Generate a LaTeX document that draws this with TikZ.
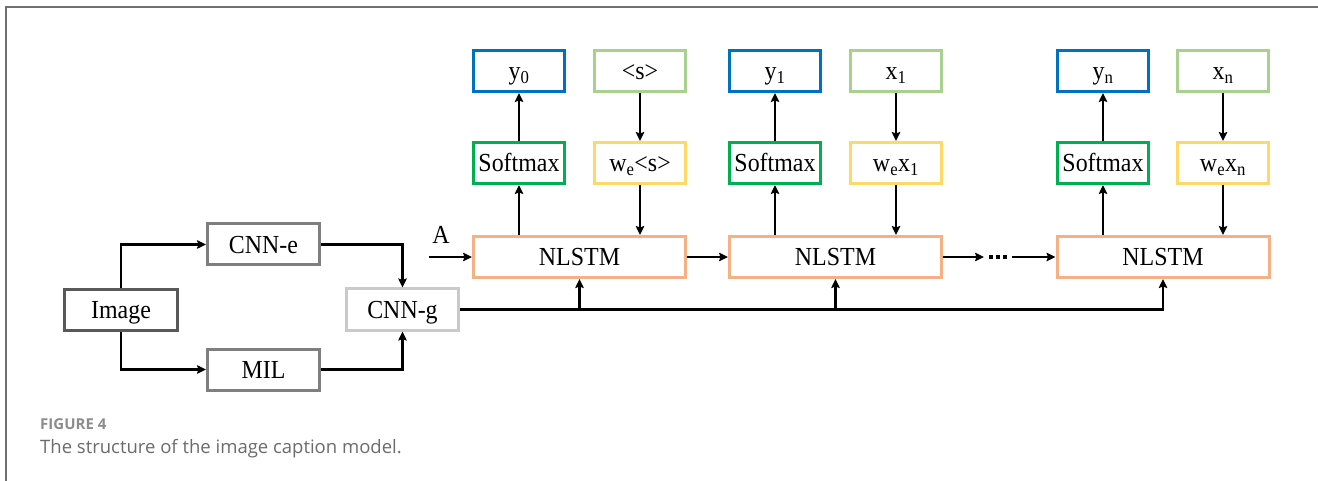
\documentclass[tikz,border=0pt]{standalone}
\usepackage{fontspec}
\setmainfont{Liberation Serif}[FakeStretch=0.92]
\newfontfamily\capfont{Open Sans}
\usetikzlibrary{arrows.meta}

\definecolor{frameg}{HTML}{707070}
\definecolor{imgg}{HTML}{595959}
\definecolor{midg}{HTML}{7F7F7F}
\definecolor{lightg}{HTML}{CACACA}
\definecolor{lstm}{HTML}{F4B183}
\definecolor{outblue}{HTML}{0070C0}
\definecolor{smgreen}{HTML}{00B050}
\definecolor{ingreen}{HTML}{A9D18E}
\definecolor{embyel}{HTML}{FFD966}
\definecolor{figlab}{HTML}{8C8C8C}
\definecolor{captxt}{HTML}{6B6B6B}

\begin{document}
\begin{tikzpicture}[x=1pt,y=-1pt,
  box/.style={draw, line width=3pt, inner sep=0pt, minimum height=41pt,
    text height=17.2pt, text depth=0pt, font=\fontsize{26}{30}\selectfont},
  small/.style={box, minimum width=91pt},
  outbox/.style={small, draw=outblue},
  smbox/.style={small, draw=smgreen},
  inbox/.style={small, draw=ingreen},
  embbox/.style={small, draw=embyel},
  lstmbox/.style={box, minimum width=212pt, draw=lstm},
  conn/.style={line width=2.4pt, -{Stealth[length=9pt,width=8.5pt,inset=1.5pt]}},
]
\useasboundingbox (0,0) rectangle (1318,481);

% page frame (top and left rules)
\draw[frameg, line width=2.5pt] (6,481) -- (6,7) -- (1318,7);

% feature extraction branch
\node[box, draw=imgg, minimum width=113pt] (img) at (121,310) {Image};
\node[box, draw=midg, minimum width=112pt] (cnne) at (263.5,244.5) {CNN-e};
\node[box, draw=midg, minimum width=112pt] (mil) at (263.5,369.5) {MIL};
\node[box, draw=lightg, minimum width=112pt] (cnng) at (402.5,309.5) {CNN-g};

\draw[conn] (img.north) |- (cnne.west);
\draw[conn] (img.south) |- (mil.west);
\draw[conn] (cnne.east) -| (cnng.north);
\draw[conn] (mil.east) -| (cnng.south);

% recurrent units
\node[lstmbox] (l1) at (579.5,257) {NLSTM};
\node[lstmbox] (l2) at (835.5,257) {NLSTM};
\node[lstmbox] (ln) at (1163,257) {NLSTM};

% step 0
\node[outbox] (y0) at (519,71) {y\textsubscript{0}};
\node[smbox] (sm0) at (519,163) {Softmax};
\node[inbox] (s0) at (640,71) {\textless s\textgreater};
\node[embbox] (we0) at (640,163) {w\textsubscript{e}\textless s\textgreater};

% step 1
\node[outbox] (y1) at (775,71) {y\textsubscript{1}};
\node[smbox] (sm1) at (775,163) {Softmax};
\node[inbox] (x1) at (896,71) {x\textsubscript{1}};
\node[embbox] (we1) at (896,163) {w\textsubscript{e}x\textsubscript{1}};

% step n
\node[outbox] (yn) at (1103,71) {y\textsubscript{n}};
\node[smbox] (smn) at (1103,163) {Softmax};
\node[inbox] (xn) at (1223,71) {x\textsubscript{n}};
\node[embbox] (wen) at (1223,163) {w\textsubscript{e}x\textsubscript{n}};

% vertical data flow per step
\foreach \l/\sm/\y/\x/\we in {l1/sm0/y0/s0/we0, l2/sm1/y1/x1/we1, ln/smn/yn/xn/wen}{
  \draw[conn] (\l.north -| \sm.south) -- (\sm.south);
  \draw[conn] (\sm.north) -- (\y.south);
  \draw[conn] (\x.south) -- (\we.north);
  \draw[conn] (\we.south) -- (\l.north -| \we.south);
}

% attention input
\coordinate (ain) at (429,257);
\node[font=\fontsize{26}{30}\selectfont, inner sep=0pt] (alab) at (441,235) {A};
\draw[conn] (ain) -- (l1.west);

% hidden-state chain
\draw[conn] (l1.east) -- (l2.west);
\coordinate (dotA) at (984,257);
\coordinate (dotS) at (989,257);
\coordinate (dotE) at (1009,257);
\coordinate (dotB) at (1012,257);
\draw[conn] (l2.east) -- (dotA);
\draw[line width=4pt, dash pattern=on 4pt off 3pt] (dotS) -- (dotE);
\draw[conn] (dotB) -- (ln.west);

% global image feature bus
\draw[conn] (cnng.east) -| (ln.south);
\draw[conn] (l1.south |- cnng.east) -- (l1.south);
\draw[conn] (l2.south |- cnng.east) -- (l2.south);

% caption
\node[anchor=base west, inner sep=0pt, text=figlab,
  font=\capfont\bfseries\fontsize{15}{18}\selectfont] (fig) at (40,429) {FIGURE 4};
\node[anchor=base west, inner sep=0pt, text=captxt,
  font=\capfont\fontsize{18.5}{22}\selectfont] (cap) at (40,453) {The structure of the image caption model.};
\end{tikzpicture}
\end{document}
